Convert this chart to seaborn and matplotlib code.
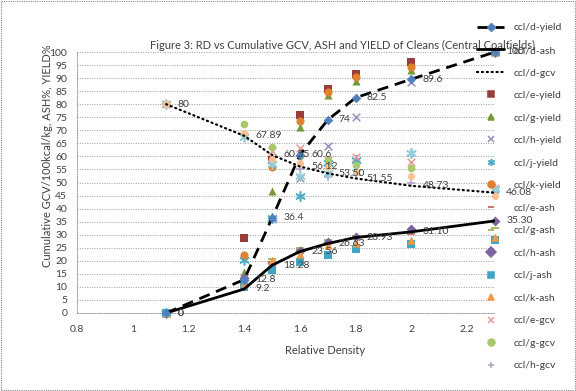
import matplotlib
matplotlib.use("Agg")
import matplotlib.pyplot as plt
from matplotlib.lines import Line2D
from matplotlib.patches import Rectangle
import seaborn as sns
import pandas as pd

#################### DATA ####################
rd = [1.12, 1.4, 1.5, 1.6, 1.7, 1.8, 2.0, 2.3]

d_yield = [0, 12.8, 36.4, 60.6, 74, 82.5, 89.6, 100]
d_ash = [0, 9.2, 18.28, 23.56, 26.63, 28.93, 31.10, 35.30]
d_gcv = [80, 67.89, 60.55, 56.12, 53.50, 51.55, 48.73, 46.08]

d_yield_lbl = ["0", "12.8", "36.4", "60.6", "74", "82.5", "89.6", "100"]
d_ash_lbl = ["0", "9.2", "18.28", "23.56", "26.63", "28.93", "31.10", "35.30"]
d_gcv_lbl = ["80", "67.89", "60.55", "56.12", "53.50", "51.55", "48.73", "46.08"]

e_yield = [0, 28.7, 58.8, 75.9, 86.0, 91.7, 96.0, 100]
g_yield = [0, 15.7, 46.8, 71.3, 83.6, 89.0, 93.2, 100]
h_yield = [0, 13.5, 36.0, 51.6, 63.9, 75.1, 88.5, 100]
j_yield = [0, 20.2, 36.4, 44.7, 57.3, 58.6, 61.2, 100]
k_yield = [0, 22.4, 55.8, 73.5, 84.7, 90.4, 94.3, 100]

e_ash = [0, 10.8, 19.6, 24.2, 27.0, 28.6, 30.2, 27.0]
g_ash = [0, 12.2, 20.8, 24.8, 27.9, 29.4, 30.8, 32.4]
h_ash = [0, 13.3, 19.0, 23.8, 27.2, 29.0, 32.1, 35.1]
j_ash = [0, 10.0, 16.4, 19.5, 22.1, 24.4, 26.3, 28.0]
k_ash = [0, 11.4, 20.2, 22.5, 25.9, 26.7, 27.9, 29.1]

e_gcv = [80, 68.0, 62.0, 63.1, 58.8, 59.8, 58.0, 48.0]
g_gcv = [80, 72.3, 63.6, 60.0, 58.5, 56.6, 55.6, 47.0]
h_gcv = [80, 68.3, 58.2, 55.0, 52.1, 52.8, 49.7, 46.0]
j_gcv = [80, 67.4, 57.0, 52.3, 53.8, 54.2, 61.2, 47.5]
k_gcv = [80, 69.0, 59.0, 57.5, 55.8, 54.0, 52.5, 45.0]

#################### CONFIG ####################
sns.set_style("white")
plt.rcParams["font.family"] = ["Lato", "DejaVu Sans"]
plt.rcParams["font.size"] = 7.5

TXT = "#404040"
GRID = "#9a9a9a"

scatter_series = {
    # name: (values, color, marker, size)
    "ccl/e-yield": (e_yield, "#993d3a", "s", 30),
    "ccl/g-yield": (g_yield, "#77993a", "^", 34),
    "ccl/h-yield": (h_yield, "#9c8cc0", "x", 30),
    "ccl/j-yield": (j_yield, "#4bacc6", (6, 2, 0), 45),
    "ccl/k-yield": (k_yield, "#e0812f", "o", 34),
    "ccl/e-ash": (e_ash, "#c0504d", "_", 40),
    "ccl/g-ash": (g_ash, "#8aab3f", "_", 40),
    "ccl/h-ash": (h_ash, "#8064a2", "D", 26),
    "ccl/j-ash": (j_ash, "#3ea6c4", "s", 30),
    "ccl/k-ash": (k_ash, "#f79646", "^", 34),
    "ccl/e-gcv": (e_gcv, "#e59a99", "x", 30),
    "ccl/g-gcv": (g_gcv, "#a9c86c", "o", 30),
    "ccl/h-gcv": (h_gcv, "#b3a2c7", "+", 40),
    "ccl/j-gcv": (j_gcv, "#93cddd", (6, 2, 0), 45),
    "ccl/k-gcv": (k_gcv, "#fac08f", "o", 26),
}

#################### PLOT ####################
fig = plt.figure(figsize=(5.76, 3.91), dpi=100)
ax = fig.add_axes([77 / 576, 1 - 313 / 391, 418 / 576, 261 / 391])

for i in range(0, 101, 5):
    ax.axhline(i, color=GRID, lw=0.7, ls=(0, (1, 1.5)), zorder=0)

for name, (vals, col, mk, sz) in scatter_series.items():
    df = pd.DataFrame({"rd": rd, "val": vals})
    filled = mk not in ("x", "+", "_") and not isinstance(mk, tuple)
    kw = dict(edgecolor=col, linewidth=0) if filled else dict(linewidth=1.1)
    sns.scatterplot(data=df, x="rd", y="val", color=col, marker=mk, s=sz,
                    ax=ax, zorder=3, clip_on=False, legend=False, **kw)

line_df = pd.DataFrame({"rd": rd, "yield": d_yield, "ash": d_ash, "gcv": d_gcv})
sns.lineplot(data=line_df, x="rd", y="yield", color="black", lw=2,
             ls=(0, (4, 2.5)), ax=ax, zorder=4)
sns.lineplot(data=line_df, x="rd", y="ash", color="black", lw=2, ax=ax, zorder=4)
sns.lineplot(data=line_df, x="rd", y="gcv", color="black", lw=1.6,
             ls=(0, (0.5, 1.7)), dash_capstyle="round", ax=ax, zorder=4)
sns.scatterplot(data=line_df, x="rd", y="yield", color="#4f81bd", marker="D",
                s=24, linewidth=0, ax=ax, zorder=5, clip_on=False, legend=False)

for vals, lbls in [(d_yield, d_yield_lbl), (d_ash, d_ash_lbl), (d_gcv, d_gcv_lbl)]:
    for x, y, t in zip(rd, vals, lbls):
        ax.annotate(t, (x, y), xytext=(8, 0), textcoords="offset points",
                    va="center", ha="left", color=TXT, fontsize=7.5,
                    zorder=10, annotation_clip=False)

ax.set_xlim(0.8, 2.3)
ax.set_ylim(0, 100)
ax.set_xticks([0.8, 1, 1.2, 1.4, 1.6, 1.8, 2, 2.2])
ax.set_xticklabels(["0.8", "1", "1.2", "1.4", "1.6", "1.8", "2", "2.2"])
ax.set_yticks(range(0, 101, 5))
ax.tick_params(axis="both", direction="out", length=3, width=0.7, color=GRID,
               labelcolor=TXT, labelsize=7.5)
ax.tick_params(axis="x", pad=6)
ax.tick_params(axis="y", pad=4)

sns.despine(ax=ax, top=True, right=True)
for side in ("left", "bottom"):
    ax.spines[side].set_color(GRID)
    ax.spines[side].set_linewidth(0.7)
    ax.spines[side].set_linestyle((0, (1, 1.5)))

ax.set_xlabel("Relative Density", color=TXT, fontsize=8, va="center")
ax.xaxis.set_label_coords((325 - 77) / 418, (313 - 350) / 261)
ax.set_ylabel("Cumulative GCV/100kcal/kg, ASH%, YIELD%", color=TXT,
              fontsize=8, va="center")
ax.yaxis.set_label_coords((48 - 77) / 418, (313 - 156) / 261)

fig.text(343 / 576, 1 - 45 / 391,
         "Figure 3: RD vs Cumulative GCV, ASH and YIELD of Cleans (Central Coalfields)",
         ha="center", va="center", color=TXT, fontsize=8)

#################### LEGEND ####################
handles = [
    Line2D([], [], color="black", lw=2, ls=(0, (4, 2.5)), marker="D",
           mfc="#4f81bd", mec="#4f81bd", ms=4.5),
    Line2D([], [], color="black", lw=2),
    Line2D([], [], color="black", lw=1.6, ls=(0, (0.5, 1.7)), dash_capstyle="round"),
]
labels = ["ccl/d-yield", "ccl/d-ash", "ccl/d-gcv"]
for name, (vals, col, mk, sz) in list(scatter_series.items())[:13]:
    handles.append(Line2D([], [], ls="none", marker=mk, color=col, mfc=col,
                          mec=col, ms=5, mew=1.1))
    labels.append(name)

fig.legend(handles, labels, loc="upper left", bbox_to_anchor=(472 / 576, 1 - 18 / 391),
           frameon=False, fontsize=7.5, handlelength=2.6, handletextpad=0.9,
           labelspacing=1.27, labelcolor=TXT, borderpad=0)

fig.patches.append(Rectangle((0.001, 0.002), 0.997, 0.996, transform=fig.transFigure,
                             fill=False, ec="#888888", lw=0.8, ls=(0, (1, 1))))

fig.savefig("out.png", dpi=100, facecolor="white")
